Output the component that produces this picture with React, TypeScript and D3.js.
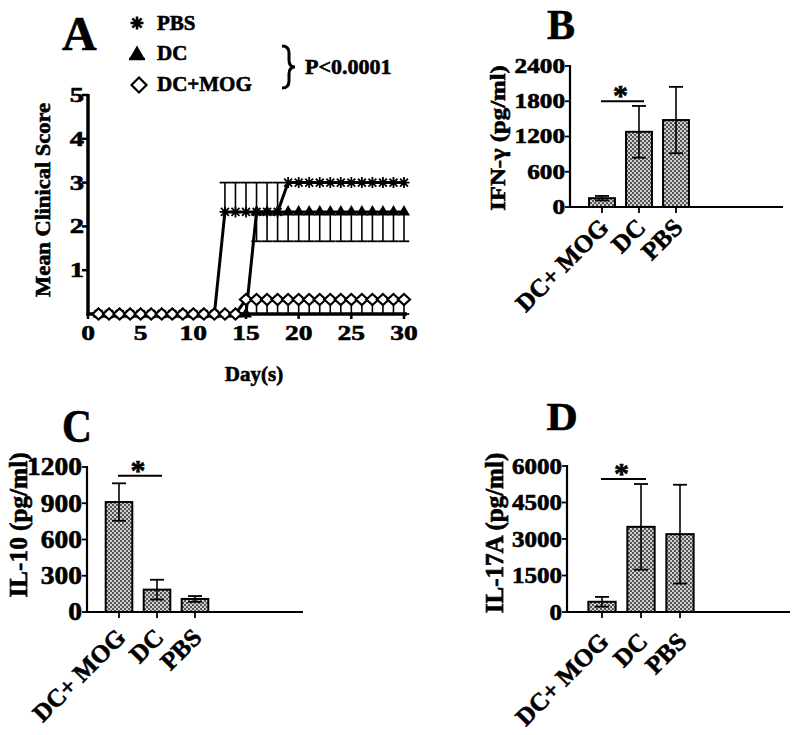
import React from 'react';
import * as d3 from 'd3';

const FONT = '"Liberation Serif", "Times New Roman", serif';

// ---------- Panel A data ----------
const DAYS = [1, 2, 3, 4, 5, 6, 7, 8, 9, 10, 11, 12, 13, 14, 15, 16, 17, 18, 19, 20, 21, 22, 23, 24, 25, 26, 27, 28, 29, 30];
const PBS_SCORE = [0, 0, 0, 0, 0, 0, 0, 0, 0, 0, 0, 0, 2.33, 2.33, 2.33, 2.33, 2.33, 2.33, 3, 3, 3, 3, 3, 3, 3, 3, 3, 3, 3, 3];
const PBS_ERR = [0, 0, 0, 0, 0, 0, 0, 0, 0, 0, 0, 0, 0.67, 0.67, 0.67, 0.67, 0.67, 0.67, 0, 0, 0, 0, 0, 0, 0, 0, 0, 0, 0, 0];
const DC_SCORE = [0, 0, 0, 0, 0, 0, 0, 0, 0, 0, 0, 0, 0, 0, 0, 2.33, 2.33, 2.33, 2.33, 2.33, 2.33, 2.33, 2.33, 2.33, 2.33, 2.33, 2.33, 2.33, 2.33, 2.33];
const DC_ERR = [0, 0, 0, 0, 0, 0, 0, 0, 0, 0, 0, 0, 0, 0, 0, 0.67, 0.67, 0.67, 0.67, 0.67, 0.67, 0.67, 0.67, 0.67, 0.67, 0.67, 0.67, 0.67, 0.67, 0.67];
const MOG_SCORE = [0, 0, 0, 0, 0, 0, 0, 0, 0, 0, 0, 0, 0, 0, 0.33, 0.33, 0.33, 0.33, 0.33, 0.33, 0.33, 0.33, 0.33, 0.33, 0.33, 0.33, 0.33, 0.33, 0.33, 0.33];
const MOG_ERR = [0, 0, 0, 0, 0, 0, 0, 0, 0, 0, 0, 0, 0, 0, 0.33, 0.33, 0.33, 0.33, 0.33, 0.33, 0.33, 0.33, 0.33, 0.33, 0.33, 0.33, 0.33, 0.33, 0.33, 0.33];
const A_XTICKS = [0, 5, 10, 15, 20, 25, 30];
const A_YTICKS = [1, 2, 3, 4, 5];

// ---------- Bar panel data ----------
const CATEGORIES = ['DC+ MOG', 'DC', 'PBS'];
const IFNG_MEAN = [150, 1280, 1480];
const IFNG_ERR = [38, 440, 565];
const IFNG_TICKS = [0, 600, 1200, 1800, 2400];
const IFNG_SIG = 1800;

const IL10_MEAN = [910, 185, 108];
const IL10_ERR = [155, 82, 24];
const IL10_TICKS = [0, 300, 600, 900, 1200];
const IL10_SIG = 1128;

const IL17_MEAN = [420, 3500, 3200];
const IL17_ERR = [200, 1760, 2030];
const IL17_TICKS = [0, 1500, 3000, 4500, 6000];
const IL17_SIG = 5470;

type TP = {
  x: number; y: number; size: number; children: any;
  anchor?: string; rotate?: number; sx?: number; heavy?: number;
};
function T({ x, y, size, children, anchor = 'start', rotate = 0, sx = 1, heavy = 0.6 }: TP) {
  return (
    <text
      transform={`translate(${x},${y}) rotate(${rotate}) scale(${sx},1)`}
      fontSize={size}
      textAnchor={anchor as any}
      fontFamily={FONT}
      fontWeight="bold"
      fill="#000"
      stroke="#000"
      strokeWidth={heavy}
    >
      {children}
    </text>
  );
}

const asteriskPath = (r: number) => {
  const d = r * 0.72;
  return `M${-r},0H${r}M0,${-r}V${r}M${-d},${-d}L${d},${d}M${-d},${d}L${d},${-d}`;
};
const diamondPath = (w: number, h: number) => `M0,${-h}L${w},0L0,${h}L${-w},0Z`;
const trianglePath = d3.symbol(d3.symbolTriangle, 62)() as string;

function Marker({ kind, x, y, big = false }: { kind: string; x: number; y: number; big?: boolean }) {
  if (kind === 'asterisk') {
    return <path d={asteriskPath(big ? 6.5 : 5.5)} transform={`translate(${x},${y})`} stroke="#000" strokeWidth={big ? 2.6 : 1.8} fill="none" />;
  }
  if (kind === 'triangle') {
    return (
      <g transform={`translate(${x},${y})`}>
        {big && <line x1={-8} x2={8} y1={5} y2={5} stroke="#000" strokeWidth={2.5} />}
        <path d={big ? (d3.symbol(d3.symbolTriangle, 95)() as string) : trianglePath} fill="#000" />
      </g>
    );
  }
  return <path d={big ? diamondPath(7.5, 7.5) : diamondPath(6, 5.5)} transform={`translate(${x},${y})`} stroke="#000" strokeWidth={2.2} fill="#fff" />;
}

function PanelA() {
  const x = d3.scaleLinear().domain([0, 30]).range([88, 404]);
  const y = d3.scaleLinear().domain([0, 5]).range([314, 95]);
  const series = [
    { name: 'PBS', score: PBS_SCORE, err: PBS_ERR, dir: 1, kind: 'asterisk' },
    { name: 'DC', score: DC_SCORE, err: DC_ERR, dir: -1, kind: 'triangle' },
    { name: 'DC+MOG', score: MOG_SCORE, err: MOG_ERR, dir: -1, kind: 'diamond' },
  ];
  const line = d3.line<number>().x((_, i) => x(DAYS[i])).y((v) => y(v));
  const capW = 10.5;
  return (
    <g>
      <T x={62} y={50} size={48}>A</T>
      {/* axes */}
      <line x1={x(0)} x2={x(0)} y1={y(5) - 1} y2={y(0) + 1.5} stroke="#000" strokeWidth={3.5} />
      <line x1={x(0) - 1.5} x2={x(30) + 3} y1={y(0)} y2={y(0)} stroke="#000" strokeWidth={3.5} />
      {A_YTICKS.map((t) => (
        <g key={t}>
          <line x1={x(0) - 6} x2={x(0)} y1={y(t)} y2={y(t)} stroke="#000" strokeWidth={2.5} />
          <T x={x(0) - 4} y={y(t) + 7} size={22} anchor="end" sx={1.3}>{t}</T>
        </g>
      ))}
      {A_XTICKS.map((t) => (
        <g key={t}>
          <line x1={x(t)} x2={x(t)} y1={y(0)} y2={y(0) + 5} stroke="#000" strokeWidth={2.5} />
          <T x={x(t)} y={340} size={22} anchor="middle" sx={1.25}>{t}</T>
        </g>
      ))}
      <T x={50} y={200} size={22} anchor="middle" rotate={-90} sx={1.02}>Mean Clinical Score</T>
      <T x={254} y={381} size={21} anchor="middle">Day(s)</T>
      {/* error bars */}
      {series.map((s) => (
        <g key={s.name + 'e'}>
          {s.score.map((v, i) =>
            s.err[i] > 0 ? (
              <g key={i}>
                <line x1={x(DAYS[i])} x2={x(DAYS[i])} y1={y(v)} y2={y(v + s.dir * s.err[i])} stroke="#000" strokeWidth={1.6} />
                <line x1={x(DAYS[i]) - capW / 2} x2={x(DAYS[i]) + capW / 2} y1={y(v + s.dir * s.err[i])} y2={y(v + s.dir * s.err[i])} stroke="#000" strokeWidth={1.8} />
              </g>
            ) : null
          )}
        </g>
      ))}
      {/* lines */}
      {series.map((s) => (
        <path key={s.name + 'l'} d={line(s.score) as string} stroke="#000" strokeWidth={3} fill="none" />
      ))}
      {/* markers */}
      {series.map((s) => (
        <g key={s.name + 'm'}>
          {s.score.map((v, i) => (
            <Marker key={i} kind={s.kind} x={x(DAYS[i])} y={y(v)} />
          ))}
        </g>
      ))}
      {/* legend */}
      <Marker kind="asterisk" x={137} y={23} big />
      <T x={157} y={30} size={21}>PBS</T>
      <Marker kind="triangle" x={137} y={54} big />
      <T x={157} y={60} size={21}>DC</T>
      <Marker kind="diamond" x={139} y={85} big />
      <T x={157} y={91} size={21}>DC+MOG</T>
      <path d="M282,46 q7,0 7,7 v7 q0,7 6,7 q-6,0 -6,7 v7 q0,7 -7,7" stroke="#000" strokeWidth={3} fill="none" />
      <T x={305} y={74} size={22}>P&lt;0.0001</T>
    </g>
  );
}

type BarProps = {
  means: number[]; errs: number[]; ticks: number[]; sig: number;
  axisX: number; axisEnd: number; y0: number; yTop: number; c0: number; step: number;
  title: string; titleX: number; titleY: number; titleSize: number; titleSx: number;
  tickSize: number; tickSx: number; labelDy: number;
  letter: string; letterX: number; letterY: number; letterSize: number; letterSx: number;
};

function BarPanel(p: BarProps) {
  const yMax = p.ticks[p.ticks.length - 1];
  const y = d3.scaleLinear().domain([0, yMax]).range([p.y0, p.yTop]);
  const band = d3
    .scaleBand<string>()
    .domain(CATEGORIES)
    .range([p.c0 - p.step / 2, p.c0 + p.step * 2.5])
    .paddingInner(0.3)
    .paddingOuter(0.15);
  const bw = band.bandwidth();
  const cx = (c: string) => (band(c) as number) + bw / 2;
  const capW = 14;
  const sx1 = cx(CATEGORIES[0]) - 1;
  const sx2 = cx(CATEGORIES[1]) + 5;
  return (
    <g>
      <T x={p.letterX} y={p.letterY} size={p.letterSize} anchor="middle" sx={p.letterSx}>{p.letter}</T>
      {CATEGORIES.map((c, i) => (
        <g key={c}>
          <rect x={band(c)} y={y(p.means[i])} width={bw} height={p.y0 - y(p.means[i])} fill="url(#dots)" stroke="#000" strokeWidth={2} />
          <line x1={cx(c)} x2={cx(c)} y1={y(p.means[i] + p.errs[i])} y2={y(Math.max(0, p.means[i] - p.errs[i]))} stroke="#000" strokeWidth={1.6} />
          <line x1={cx(c) - capW / 2} x2={cx(c) + capW / 2} y1={y(p.means[i] + p.errs[i])} y2={y(p.means[i] + p.errs[i])} stroke="#000" strokeWidth={1.8} />
          <line x1={cx(c) - capW / 2} x2={cx(c) + capW / 2} y1={y(Math.max(0, p.means[i] - p.errs[i]))} y2={y(Math.max(0, p.means[i] - p.errs[i]))} stroke="#000" strokeWidth={1.8} />
          <line x1={cx(c)} x2={cx(c)} y1={p.y0} y2={p.y0 + 6} stroke="#000" strokeWidth={1.8} />
          <T x={cx(c) + 8} y={p.y0 + p.labelDy} size={25} anchor="end" rotate={-45}>{c}</T>
        </g>
      ))}
      <line x1={p.axisX} x2={p.axisX} y1={p.yTop - 1} y2={p.y0 + 1} stroke="#000" strokeWidth={2.2} />
      <line x1={p.axisX - 1} x2={p.axisEnd} y1={p.y0} y2={p.y0} stroke="#000" strokeWidth={2.2} />
      {p.ticks.map((t) => (
        <g key={t}>
          <line x1={p.axisX - 5} x2={p.axisX} y1={y(t)} y2={y(t)} stroke="#000" strokeWidth={1.8} />
          <T x={p.axisX - 5} y={y(t) + p.tickSize * 0.33} size={p.tickSize} anchor="end" sx={p.tickSx}>{t}</T>
        </g>
      ))}
      <T x={p.titleX} y={p.titleY} size={p.titleSize} anchor="middle" rotate={-90} sx={p.titleSx}>{p.title}</T>
      <line x1={sx1} x2={sx2} y1={y(p.sig)} y2={y(p.sig)} stroke="#000" strokeWidth={2} />
      <T x={(sx1 + sx2) / 2 - 2} y={y(p.sig) + 4} size={30} anchor="middle">*</T>
    </g>
  );
}

export default function App() {
  return (
    <svg width={800} height={735} style={{ position: 'absolute', left: 0, top: 0, background: '#fff' }}>
      <defs>
        <pattern id="dots" width={4} height={4} patternUnits="userSpaceOnUse">
          <rect width={4} height={4} fill="#d0d0d0" />
          <rect width={2} height={2} fill="#555" />
          <rect x={2} y={2} width={2} height={2} fill="#555" />
        </pattern>
      </defs>
      <rect width={800} height={735} fill="#fff" />
      <PanelA />
      <BarPanel
        means={IFNG_MEAN} errs={IFNG_ERR} ticks={IFNG_TICKS} sig={IFNG_SIG}
        axisX={570} axisEnd={783} y0={207} yTop={66} c0={602} step={37}
        title="IFN-γ (pg/ml)" titleX={505} titleY={138} titleSize={21} titleSx={1.18}
        tickSize={21} tickSx={1.2} labelDy={22}
        letter="B" letterX={561} letterY={39} letterSize={42} letterSx={1}
      />
      <BarPanel
        means={IL10_MEAN} errs={IL10_ERR} ticks={IL10_TICKS} sig={IL10_SIG}
        axisX={87} axisEnd={303} y0={612} yTop={467} c0={119} step={38}
        title="IL-10 (pg/ml)" titleX={27} titleY={525} titleSize={25} titleSx={1.01}
        tickSize={25} tickSx={1.1} labelDy={27}
        letter="C" letterX={77} letterY={442} letterSize={46} letterSx={0.9}
      />
      <BarPanel
        means={IL17_MEAN} errs={IL17_ERR} ticks={IL17_TICKS} sig={IL17_SIG}
        axisX={567} axisEnd={790} y0={612} yTop={466} c0={602} step={39}
        title="IL-17A (pg/ml)" titleX={503} titleY={533} titleSize={25} titleSx={1.0}
        tickSize={23} tickSx={1.09} labelDy={31}
        letter="D" letterX={562} letterY={430} letterSize={40} letterSx={1.08}
      />
    </svg>
  );
}
